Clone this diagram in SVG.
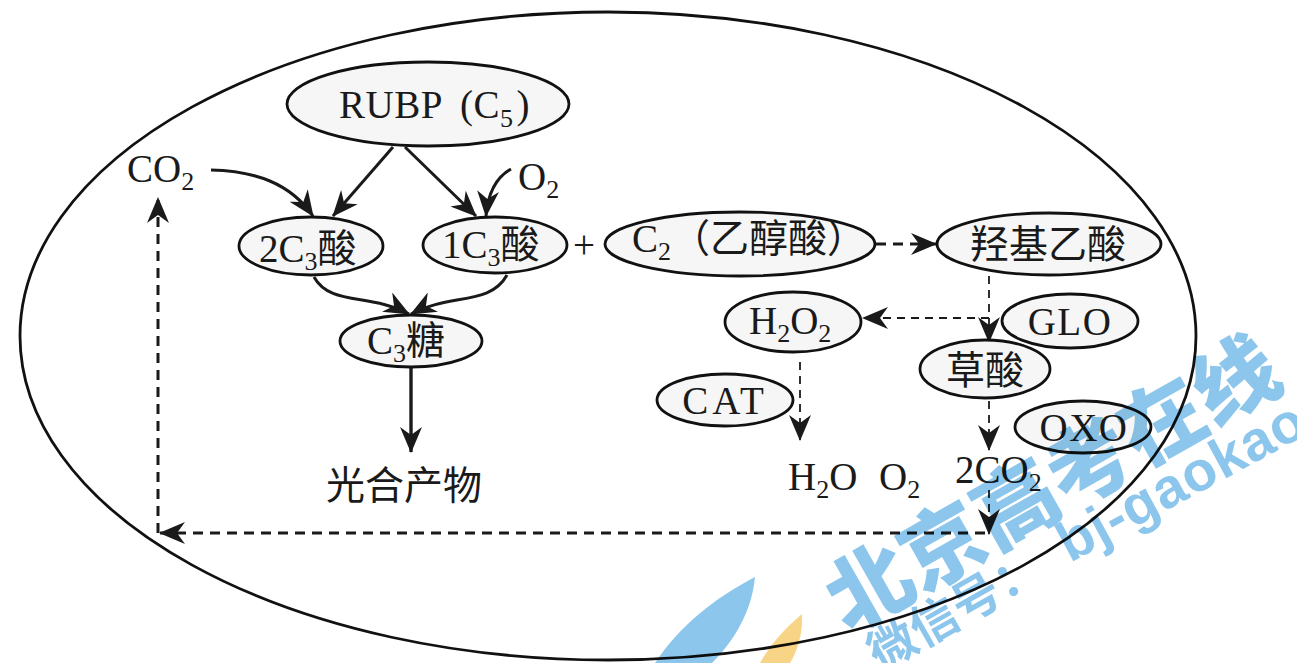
<svg xmlns="http://www.w3.org/2000/svg" width="1297" height="663" viewBox="0 0 1297 663">
<style>
text{font-family:"Liberation Serif","Noto Sans CJK SC",serif;font-size:39px;fill:#1a1a1a}
.c{text-anchor:middle}
.n{fill:#f6f6f6;stroke:#111;stroke-width:2.8}
.s{font-size:26px}
.l{fill:none;stroke:#1a1a1a;stroke-width:3}
.t{stroke-width:3.4}
.d{fill:none;stroke:#1a1a1a;stroke-width:1.8;stroke-dasharray:8 6}
.e{fill:none;stroke:#1a1a1a;stroke-width:3;stroke-dasharray:10 7}
.w1{font-family:"Noto Sans CJK SC","Liberation Sans",sans-serif;fill:#8cc6ec;font-weight:900;font-size:84px}
.w2{font-family:"Noto Sans CJK SC","Liberation Sans",sans-serif;fill:#8cc6ec;font-weight:700;font-size:48px}
.w3{font-family:"Liberation Sans",sans-serif;fill:#8cc6ec;font-weight:700;font-size:56px}
</style>
<defs>
<marker id="a" viewBox="0 0 26 22" refX="25" refY="11" markerWidth="26" markerHeight="22" markerUnits="userSpaceOnUse" orient="auto"><path d="M0 0 L26 11 L0 22 L8 11 Z" fill="#1a1a1a"/></marker>
</defs>
<rect width="1297" height="663" fill="#fff"/>
<ellipse id="cell" cx="608" cy="336" rx="588" ry="324" fill="none" stroke="#111" stroke-width="2.8"/>
<g id="connectors">
<path class="l" d="M393 147 L333 216" marker-end="url(#a)"/>
<path class="l" d="M405 147 L476 216" marker-end="url(#a)"/>
<path class="l" d="M211 170 C255 171 290 183 313 216" marker-end="url(#a)"/>
<path class="l" d="M511 169 C497 177 488 192 486 216" marker-end="url(#a)"/>
<path class="l" d="M314 277 C330 306 370 293 409 314" marker-end="url(#a)"/>
<path class="l" d="M507 275 C490 306 450 293 411 314" marker-end="url(#a)"/>
<path class="l t" d="M411 367 V452" marker-end="url(#a)"/>
<path class="e" d="M876 244 H936" marker-end="url(#a)"/>
<path class="d" d="M989 276 V342" marker-end="url(#a)"/>
<path class="d" d="M989 318 H863" marker-end="url(#a)"/>
<path class="d" d="M800 362 V440" marker-end="url(#a)"/>
<path class="d" d="M989 401 V450" marker-end="url(#a)"/>
<path class="d" d="M989 490 V534" marker-end="url(#a)"/>
<path class="e" d="M985 533 H160" marker-end="url(#a)"/>
<path class="e" d="M158 533 V198" marker-end="url(#a)"/>
</g>
<g id="rubp"><ellipse class="n" cx="428" cy="104" rx="141" ry="42"/><text x="339" y="118" letter-spacing="0.5">RUBP<tspan x="460">(C</tspan><tspan class="s" dy="9">5</tspan><tspan dx="3" dy="-9">)</tspan></text></g>
<g id="co2"><text x="127" y="182">CO<tspan class="s" dy="8">2</tspan></text></g>
<g id="o2a"><text x="518" y="190">O<tspan class="s" dy="8">2</tspan></text></g>
<g id="c3a2"><ellipse class="n" cx="311" cy="246" rx="72" ry="29"/><text x="259" y="262">2C<tspan class="s" dy="8">3</tspan><tspan dy="-8">酸</tspan></text></g>
<g id="c3a1"><ellipse class="n" cx="495" cy="245" rx="72" ry="28"/><text x="442" y="258">1C<tspan class="s" dy="8">3</tspan><tspan dy="-8">酸</tspan></text></g>
<g id="plus"><text class="c" x="584" y="258">+</text></g>
<g id="c2"><ellipse class="n" cx="740" cy="244" rx="135" ry="32"/><text x="632" y="252">C<tspan class="s" dy="8">2</tspan><tspan dy="-8">（乙醇酸）</tspan></text></g>
<g id="gly"><ellipse class="n" cx="1049" cy="244" rx="112" ry="31"/><text class="c" x="1048" y="258">羟基乙酸</text></g>
<g id="c3s"><ellipse class="n" cx="411" cy="341" rx="71" ry="26"/><text x="367" y="354">C<tspan class="s" dy="8">3</tspan><tspan dy="-8">糖</tspan></text></g>
<g id="h2o2"><ellipse class="n" cx="793" cy="322" rx="68" ry="30"/><text x="749" y="334">H<tspan class="s" dy="8">2</tspan><tspan dy="-8">O</tspan><tspan class="s" dy="8">2</tspan></text></g>
<g id="glo"><ellipse class="n" cx="1070" cy="321" rx="68" ry="27"/><text class="c" x="1070" y="335" letter-spacing="1.5">GLO</text></g>
<g id="cao"><ellipse class="n" cx="985" cy="369" rx="65" ry="29"/><text class="c" x="985" y="384">草酸</text></g>
<g id="cat"><ellipse class="n" cx="725" cy="400" rx="68" ry="26"/><text class="c" x="725" y="414" letter-spacing="4">CAT</text></g>
<g id="oxo"><ellipse class="n" cx="1083" cy="427" rx="68" ry="26"/><text class="c" x="1084" y="441" letter-spacing="1.5">OXO</text></g>
<g id="prod"><text class="c" x="404" y="499">光合产物</text></g>
<g id="h2o"><text x="788" y="490">H<tspan class="s" dy="8">2</tspan><tspan dy="-8">O</tspan></text></g>
<g id="o2b"><text x="879" y="490">O<tspan class="s" dy="8">2</tspan></text></g>
<g id="co2b"><text x="955" y="483">2CO<tspan class="s" dy="8">2</tspan></text></g>
<g style="mix-blend-mode:multiply">
<path d="M655 663 C680 625 715 598 755 577 C752 610 735 640 712 663 Z" fill="#8cc6ec"/>
<path d="M760 663 C770 645 785 628 802 614 C803 632 798 650 790 663 Z" fill="#f7d486"/>
<text class="w1" transform="translate(848 634) rotate(-29.5)">北京高考在线</text>
<text class="w2" transform="translate(880 672) rotate(-29.5)">微信号：</text>
<text class="w3" transform="translate(1070 563) rotate(-28.5)" letter-spacing="1">bj-gaokao</text>
</g>
</svg>
